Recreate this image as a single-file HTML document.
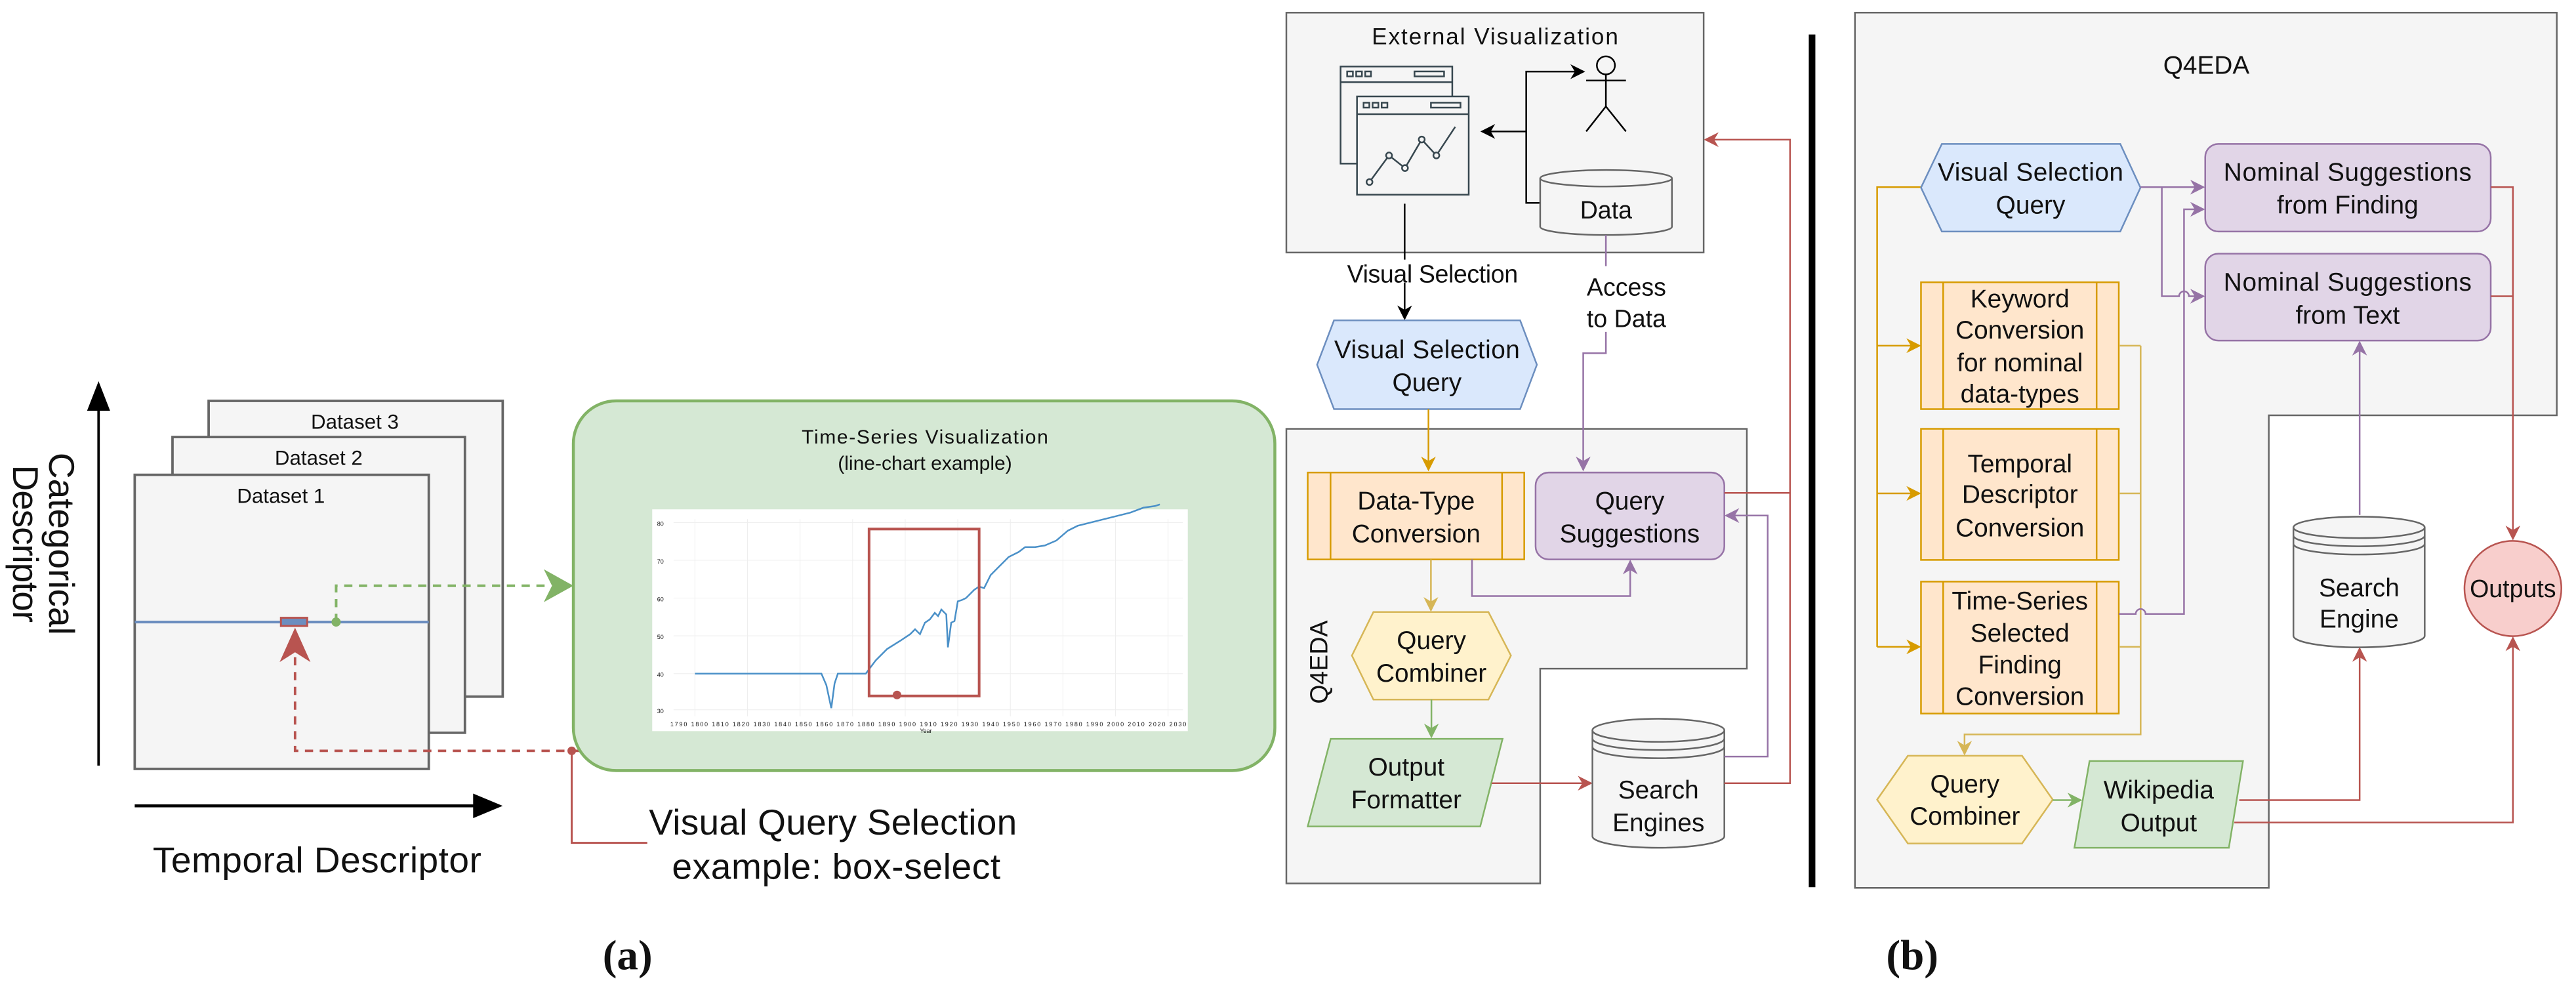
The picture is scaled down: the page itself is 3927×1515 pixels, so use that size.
<!DOCTYPE html>
<html><head><meta charset="utf-8"><style>
html,body{margin:0;padding:0;background:#fff;}
svg{display:block;}
text{font-family:"Liberation Sans",Arial,sans-serif;fill:#111;}
</style></head><body>
<svg width="3927" height="1515" viewBox="0 0 1568 605" preserveAspectRatio="none" xmlns="http://www.w3.org/2000/svg">
<defs>
<marker id="ak" viewBox="0 0 10 10" refX="9" refY="5" markerWidth="9" markerHeight="9" markerUnits="userSpaceOnUse" orient="auto"><path d="M0,0 L10,5 L0,10 L3,5 z" fill="#000"/></marker>
<marker id="ap" viewBox="0 0 10 10" refX="9" refY="5" markerWidth="9" markerHeight="9" markerUnits="userSpaceOnUse" orient="auto"><path d="M0,0 L10,5 L0,10 L3,5 z" fill="#9673a6"/></marker>
<marker id="ar" viewBox="0 0 10 10" refX="9" refY="5" markerWidth="9" markerHeight="9" markerUnits="userSpaceOnUse" orient="auto"><path d="M0,0 L10,5 L0,10 L3,5 z" fill="#b85450"/></marker>
<marker id="ao" viewBox="0 0 10 10" refX="9" refY="5" markerWidth="9" markerHeight="9" markerUnits="userSpaceOnUse" orient="auto"><path d="M0,0 L10,5 L0,10 L3,5 z" fill="#d79b00"/></marker>
<marker id="ay" viewBox="0 0 10 10" refX="9" refY="5" markerWidth="9" markerHeight="9" markerUnits="userSpaceOnUse" orient="auto"><path d="M0,0 L10,5 L0,10 L3,5 z" fill="#d6b656"/></marker>
<marker id="ag" viewBox="0 0 10 10" refX="9" refY="5" markerWidth="9" markerHeight="9" markerUnits="userSpaceOnUse" orient="auto"><path d="M0,0 L10,5 L0,10 L3,5 z" fill="#82b366"/></marker>
</defs>

<!-- ============ PANEL (a) ============ -->
<line x1="60" y1="466" x2="60" y2="250" stroke="#000" stroke-width="1.5"/>
<path d="M53,250 L60,232 L67,250 z" fill="#000"/>
<text transform="translate(30,331) rotate(90)" font-size="22" text-anchor="middle" textLength="111">Categorical</text>
<text transform="translate(8,331) rotate(90)" font-size="22" text-anchor="middle" textLength="96">Descriptor</text>

<rect x="127" y="244" width="179" height="180" fill="#f5f5f5" stroke="#666" stroke-width="1.5"/>
<text x="216" y="261" font-size="12.5" text-anchor="middle" fill="#333">Dataset 3</text>
<rect x="105" y="266" width="178" height="180" fill="#f5f5f5" stroke="#666" stroke-width="1.5"/>
<text x="194" y="283" font-size="12.5" text-anchor="middle" fill="#333">Dataset 2</text>
<rect x="82" y="289" width="179" height="179" fill="#f5f5f5" stroke="#666" stroke-width="1.5"/>
<text x="171" y="306" font-size="12.5" text-anchor="middle" fill="#333">Dataset 1</text>
<line x1="82" y1="378.6" x2="261" y2="378.6" stroke="#6c8ebf" stroke-width="1.6"/>
<rect x="171" y="376" width="16" height="5" fill="#6c8ebf" stroke="#b85450" stroke-width="1.2"/>

<polyline points="204.6,378.6 204.6,356.5 332,356.5" fill="none" stroke="#82b366" stroke-width="1.6" stroke-dasharray="5,4"/>
<circle cx="204.6" cy="378.6" r="2.8" fill="#82b366"/>
<path d="M331,346.5 L349,356.5 L331,366.5 L336,356.5 z" fill="#82b366"/>

<path d="M179.6,382 L189,403 L179.6,397 L170.2,403 z" fill="#b85450"/>
<polyline points="179.6,400 179.6,457 546,457 546,423" fill="none" stroke="#b85450" stroke-width="1.5" stroke-dasharray="5,4"/>
<circle cx="348" cy="457" r="2.6" fill="#b85450"/>
<polyline points="348,457 348,513 394,513" fill="none" stroke="#b85450" stroke-width="1.2"/>
<text x="395" y="508" font-size="22" textLength="224">Visual Query Selection</text>
<text x="409" y="535" font-size="22" textLength="200">example: box-select</text>

<line x1="82" y1="490.5" x2="290" y2="490.5" stroke="#000" stroke-width="1.8"/>
<path d="M288,483 L306,490.5 L288,498 z" fill="#000"/>
<text x="93" y="531" font-size="22" textLength="200">Temporal Descriptor</text>

<rect x="349" y="244" width="427" height="225" rx="26" fill="#d5e8d4" stroke="#82b366" stroke-width="1.8"/>
<text x="563" y="270" font-size="12" text-anchor="middle" textLength="150">Time-Series Visualization</text>
<text x="563" y="286" font-size="12" text-anchor="middle">(line-chart example)</text>
<rect x="397" y="310" width="326" height="135" fill="#fff"/>
<g stroke="#eee" stroke-width="0.4">
<line x1="410" y1="318" x2="720" y2="318"/><line x1="410" y1="341" x2="720" y2="341"/><line x1="410" y1="364" x2="720" y2="364"/><line x1="410" y1="387" x2="720" y2="387"/><line x1="410" y1="410" x2="720" y2="410"/><line x1="410" y1="432" x2="720" y2="432"/>
<line x1="423" y1="316" x2="423" y2="436"/><line x1="455" y1="316" x2="455" y2="436"/><line x1="487" y1="316" x2="487" y2="436"/><line x1="519" y1="316" x2="519" y2="436"/><line x1="551" y1="316" x2="551" y2="436"/><line x1="583" y1="316" x2="583" y2="436"/><line x1="615" y1="316" x2="615" y2="436"/><line x1="647" y1="316" x2="647" y2="436"/><line x1="679" y1="316" x2="679" y2="436"/><line x1="711" y1="316" x2="711" y2="436"/>
</g>
<g font-size="3.6" fill="#777">
<text x="400" y="320">80</text><text x="400" y="343">70</text><text x="400" y="366">60</text><text x="400" y="389">50</text><text x="400" y="412">40</text><text x="400" y="434">30</text>
<text x="408" y="442" textLength="314">1790 1800 1810 1820 1830 1840 1850 1860 1870 1880 1890 1900 1910 1920 1930 1940 1950 1960 1970 1980 1990 2000 2010 2020 2030</text>
<text x="560" y="446">Year</text>
</g>
<polyline points="423,410 500,410 503,417 506,431 508,416 510,410 527,410 533,402 540,395 548,390 554,386 557,383 560,386 563,379 566,377 569,373 571,375 573,371 576,374 577,394 579,379 581,378 583,366 586,365 588,364 590,362 593,359 596,357 599,358 603,350 608,345 614,339 620,336 624,333 630,333 636,332 643,329 650,323 656,320 664,318 672,316 680,314 688,312 696,309 703,308 706,307" fill="none" stroke="#4a90c8" stroke-width="1"/>
<rect x="529" y="322" width="67" height="101.6" fill="none" stroke="#b85450" stroke-width="1.6"/>
<circle cx="546" cy="423" r="2.6" fill="#b85450"/>

<text x="382" y="590" font-size="26" font-weight="bold" text-anchor="middle" style="font-family:'Liberation Serif',serif">(a)</text>

<!-- ============ MIDDLE ============ -->
<rect x="783" y="7.7" width="254" height="146" fill="#f5f5f5" stroke="#666" stroke-width="1"/>
<text x="910" y="27" font-size="14" text-anchor="middle" fill="#333" textLength="150">External Visualization</text>
<g fill="none" stroke="#37474f" stroke-width="1">
<path d="M826,99.6 L816,99.6 L816,40.5 L884,40.5 L884,58.7"/>
<line x1="816" y1="50" x2="884" y2="50"/>
<rect x="820" y="43.5" width="3.5" height="3"/><rect x="825.5" y="43.5" width="3.5" height="3"/><rect x="831" y="43.5" width="3.5" height="3"/><rect x="861" y="43.5" width="18" height="3"/>
<rect x="826" y="58.7" width="68" height="59.8" fill="#f5f5f5"/>
<line x1="826" y1="69.5" x2="894" y2="69.5"/>
<rect x="830" y="62.5" width="3.5" height="3"/><rect x="835.5" y="62.5" width="3.5" height="3"/><rect x="841" y="62.5" width="3.5" height="3"/><rect x="871" y="62.5" width="18" height="3"/>
<polyline points="833.6,110.8 845.5,94.6 855.2,102.3 865.4,84.9 874.3,94.6 885.8,77.2"/>
<circle cx="833.6" cy="110.8" r="1.8" fill="#f5f5f5"/><circle cx="845.5" cy="94.6" r="1.8" fill="#f5f5f5"/><circle cx="855.2" cy="102.3" r="1.8" fill="#f5f5f5"/><circle cx="865.4" cy="84.9" r="1.8" fill="#f5f5f5"/><circle cx="874.3" cy="94.6" r="1.8" fill="#f5f5f5"/>
</g>
<polyline points="938,123.5 929,123.5 929,43.6 964,43.6" fill="none" stroke="#000" stroke-width="1" marker-end="url(#ak)"/>
<line x1="929" y1="80" x2="902" y2="80" stroke="#000" stroke-width="1" marker-end="url(#ak)"/>
<g fill="none" stroke="#000" stroke-width="1">
<circle cx="977.5" cy="39.8" r="5.5"/>
<line x1="965.5" y1="49" x2="989.7" y2="49"/>
<line x1="977.5" y1="45.3" x2="977.5" y2="64.8"/>
<polyline points="965.5,80 977.5,64.8 989.7,80"/>
</g>
<path d="M937.5,108.5 L937.5,138 A40,5 0 0 0 1017.7,138 L1017.7,108.5" fill="#f5f5f5" stroke="#666" stroke-width="1"/>
<ellipse cx="977.6" cy="108.5" rx="40.1" ry="5" fill="#f5f5f5" stroke="#666" stroke-width="1"/>
<text x="977.6" y="133" font-size="15" text-anchor="middle" fill="#333">Data</text>

<line x1="855" y1="124" x2="855" y2="194" stroke="#000" stroke-width="1" marker-end="url(#ak)"/>
<rect x="818" y="158" width="108" height="14" fill="#fff"/>
<text x="872" y="172" font-size="15" text-anchor="middle" textLength="104">Visual Selection</text>

<polygon points="801.7,222 812,195 925.3,195 935.5,222 925.3,249 812,249" fill="#dae8fc" stroke="#6c8ebf" stroke-width="1"/>
<text x="868.6" y="218" font-size="15.5" text-anchor="middle" textLength="113">Visual Selection</text>
<text x="868.6" y="238" font-size="15.5" text-anchor="middle">Query</text>

<path d="M783,261 L1063.3,261 L1063.3,407 L937.5,407 L937.5,537.7 L783,537.7 z" fill="#f5f5f5" stroke="#666" stroke-width="1"/>

<polyline points="977.5,143 977.5,215 963.7,215 963.7,286" fill="none" stroke="#9673a6" stroke-width="1" marker-end="url(#ap)"/>
<rect x="955" y="162" width="48" height="40" fill="#fff"/>
<text x="990" y="180" font-size="15" text-anchor="middle">Access</text>
<text x="990" y="199" font-size="15" text-anchor="middle">to Data</text>

<line x1="869.5" y1="249" x2="869.5" y2="286" stroke="#d79b00" stroke-width="1" marker-end="url(#ao)"/>
<text transform="translate(808,403) rotate(-90)" font-size="15" text-anchor="middle">Q4EDA</text>

<rect x="796" y="287.6" width="131.8" height="52.9" fill="#ffe6cc" stroke="#d79b00" stroke-width="1"/>
<line x1="809.9" y1="287.6" x2="809.9" y2="340.5" stroke="#d79b00" stroke-width="1"/>
<line x1="914.3" y1="287.6" x2="914.3" y2="340.5" stroke="#d79b00" stroke-width="1"/>
<text x="862" y="310" font-size="15.5" text-anchor="middle">Data-Type</text>
<text x="862" y="330" font-size="15.5" text-anchor="middle">Conversion</text>

<rect x="934.7" y="287.6" width="114.9" height="52.9" rx="8" fill="#e1d5e7" stroke="#9673a6" stroke-width="1"/>
<text x="992" y="310" font-size="15.5" text-anchor="middle">Query</text>
<text x="992" y="330" font-size="15.5" text-anchor="middle">Suggestions</text>

<line x1="871" y1="340.5" x2="871" y2="371.5" stroke="#d6b656" stroke-width="1" marker-end="url(#ay)"/>
<polyline points="896,340.5 896,362.8 992.3,362.8 992.3,341.5" fill="none" stroke="#9673a6" stroke-width="1" marker-end="url(#ap)"/>

<polygon points="822.9,399 836,372.5 906,372.5 919.7,399 906,425.8 836,425.8" fill="#fff2cc" stroke="#d6b656" stroke-width="1"/>
<text x="871.3" y="395" font-size="15.5" text-anchor="middle">Query</text>
<text x="871.3" y="415" font-size="15.5" text-anchor="middle">Combiner</text>

<line x1="871.3" y1="425.8" x2="871.3" y2="448.5" stroke="#82b366" stroke-width="1" marker-end="url(#ag)"/>
<polygon points="810,449.7 914.6,449.7 901,503 796,503" fill="#d5e8d4" stroke="#82b366" stroke-width="1"/>
<text x="856" y="472" font-size="15.5" text-anchor="middle">Output</text>
<text x="856" y="492" font-size="15.5" text-anchor="middle">Formatter</text>

<line x1="908" y1="476.7" x2="968.5" y2="476.7" stroke="#b85450" stroke-width="1" marker-end="url(#ar)"/>

<path d="M969.3,444.5 L969.3,509 A40.15,7 0 0 0 1049.6,509 L1049.6,444.5" fill="#f5f5f5" stroke="#666" stroke-width="1"/>
<ellipse cx="1009.45" cy="444.5" rx="40.15" ry="7" fill="#f5f5f5" stroke="#666" stroke-width="1"/>
<path d="M969.3,449.5 A40.15,7 0 0 0 1049.6,449.5 M969.3,454.5 A40.15,7 0 0 0 1049.6,454.5" fill="none" stroke="#666" stroke-width="1"/>
<text x="1009.5" y="486" font-size="15.5" text-anchor="middle" fill="#333">Search</text>
<text x="1009.5" y="506" font-size="15.5" text-anchor="middle" fill="#333">Engines</text>

<polyline points="1049.6,460.5 1076,460.5 1076,313.8 1050.6,313.8" fill="none" stroke="#9673a6" stroke-width="1" marker-end="url(#ap)"/>
<polyline points="1049.6,476.7 1089.6,476.7 1089.6,85 1038,85" fill="none" stroke="#b85450" stroke-width="1" marker-end="url(#ar)"/>
<line x1="1049.6" y1="300" x2="1089.6" y2="300" stroke="#b85450" stroke-width="1"/>

<rect x="1101" y="21" width="4" height="519" fill="#000"/>

<!-- ============ PANEL (b) ============ -->
<path d="M1129.1,7.7 L1556.3,7.7 L1556.3,252.8 L1381,252.8 L1381,540.4 L1129.1,540.4 z" fill="#f5f5f5" stroke="#666" stroke-width="1"/>
<text x="1343" y="45" font-size="15.5" text-anchor="middle">Q4EDA</text>

<polyline points="1169.3,113.9 1142.6,113.9 1142.6,393.7" fill="none" stroke="#d79b00" stroke-width="1"/>
<line x1="1142.6" y1="210.4" x2="1168.5" y2="210.4" stroke="#d79b00" stroke-width="1" marker-end="url(#ao)"/>
<line x1="1142.6" y1="300.3" x2="1168.5" y2="300.3" stroke="#d79b00" stroke-width="1" marker-end="url(#ao)"/>
<line x1="1142.6" y1="393.7" x2="1168.5" y2="393.7" stroke="#d79b00" stroke-width="1" marker-end="url(#ao)"/>

<polygon points="1169.3,114.2 1182,87.6 1290.6,87.6 1302.9,114.2 1290.6,140.9 1182,140.9" fill="#dae8fc" stroke="#6c8ebf" stroke-width="1"/>
<text x="1236" y="110" font-size="15.5" text-anchor="middle" textLength="113">Visual Selection</text>
<text x="1236" y="130" font-size="15.5" text-anchor="middle">Query</text>

<rect x="1342.3" y="87.6" width="173.8" height="53.3" rx="8" fill="#e1d5e7" stroke="#9673a6" stroke-width="1"/>
<text x="1429" y="110" font-size="15.5" text-anchor="middle" textLength="151">Nominal Suggestions</text>
<text x="1429" y="130" font-size="15.5" text-anchor="middle">from Finding</text>
<rect x="1342.3" y="154.4" width="173.8" height="52.9" rx="8" fill="#e1d5e7" stroke="#9673a6" stroke-width="1"/>
<text x="1429" y="177" font-size="15.5" text-anchor="middle" textLength="151">Nominal Suggestions</text>
<text x="1429" y="197" font-size="15.5" text-anchor="middle">from Text</text>

<g fill="#ffe6cc" stroke="#d79b00" stroke-width="1">
<rect x="1169.3" y="171.8" width="120.4" height="77.2"/>
<line x1="1182.8" y1="171.8" x2="1182.8" y2="249"/><line x1="1276.2" y1="171.8" x2="1276.2" y2="249"/>
<rect x="1169.3" y="261" width="120.4" height="79.8"/>
<line x1="1182.8" y1="261" x2="1182.8" y2="340.8"/><line x1="1276.2" y1="261" x2="1276.2" y2="340.8"/>
<rect x="1169.3" y="354" width="120.4" height="80.3"/>
<line x1="1182.8" y1="354" x2="1182.8" y2="434.3"/><line x1="1276.2" y1="354" x2="1276.2" y2="434.3"/>
</g>
<g font-size="15.5" text-anchor="middle">
<text x="1229.5" y="187">Keyword</text><text x="1229.5" y="206">Conversion</text><text x="1229.5" y="226">for nominal</text><text x="1229.5" y="245">data-types</text>
<text x="1229.5" y="287.5">Temporal</text><text x="1229.5" y="306">Descriptor</text><text x="1229.5" y="326.5">Conversion</text>
<text x="1229.5" y="371">Time-Series</text><text x="1229.5" y="390.5">Selected</text><text x="1229.5" y="410">Finding</text><text x="1229.5" y="429">Conversion</text>
</g>

<g fill="none" stroke="#d6b656" stroke-width="1">
<line x1="1289.7" y1="210.4" x2="1303" y2="210.4"/>
<line x1="1289.7" y1="300.3" x2="1303" y2="300.3"/>
<line x1="1289.7" y1="393.7" x2="1303" y2="393.7"/>
<polyline points="1303,210.4 1303,447 1195.8,447 1195.8,459" marker-end="url(#ay)"/>
</g>

<g fill="none" stroke="#9673a6" stroke-width="1">
<line x1="1302.9" y1="113.9" x2="1341.3" y2="113.9" marker-end="url(#ap)"/>
<path d="M1315.9,113.9 L1315.9,180.3 L1326.4,180.3 A3,3 0 0 1 1332.4,180.3 L1341.3,180.3" marker-end="url(#ap)"/>
<path d="M1289.7,373.7 L1300,373.7 A3,3 0 0 1 1306,373.7 L1329.4,373.7 L1329.4,127.4 L1341.3,127.4" marker-end="url(#ap)"/>
<line x1="1436.3" y1="313.4" x2="1436.3" y2="208.3" marker-end="url(#ap)"/>
</g>

<polygon points="1142.6,486.7 1161.3,460 1230.8,460 1249.5,486.7 1230.8,513.4 1161.3,513.4" fill="#fff2cc" stroke="#d6b656" stroke-width="1"/>
<text x="1196" y="482.5" font-size="15.5" text-anchor="middle">Query</text>
<text x="1196" y="502" font-size="15.5" text-anchor="middle">Combiner</text>
<line x1="1249.5" y1="487" x2="1266.6" y2="487" stroke="#82b366" stroke-width="1" marker-end="url(#ag)"/>
<polygon points="1271.9,463.2 1365.3,463.2 1356.7,516 1262.7,516" fill="#d5e8d4" stroke="#82b366" stroke-width="1"/>
<text x="1314" y="486" font-size="15.5" text-anchor="middle">Wikipedia</text>
<text x="1314" y="506" font-size="15.5" text-anchor="middle">Output</text>

<path d="M1396,321 L1396,387 A39.95,7 0 0 0 1475.9,387 L1475.9,321" fill="#f5f5f5" stroke="#666" stroke-width="1"/>
<ellipse cx="1435.95" cy="321" rx="39.95" ry="6.5" fill="#f5f5f5" stroke="#666" stroke-width="1"/>
<path d="M1396,326 A39.95,6.5 0 0 0 1475.9,326 M1396,331 A39.95,6.5 0 0 0 1475.9,331" fill="none" stroke="#666" stroke-width="1"/>
<text x="1436" y="363" font-size="15.5" text-anchor="middle" fill="#333">Search</text>
<text x="1436" y="382" font-size="15.5" text-anchor="middle" fill="#333">Engine</text>

<ellipse cx="1529.6" cy="358.2" rx="29.5" ry="29" fill="#f8cecc" stroke="#b85450" stroke-width="1"/>
<text x="1529.6" y="363.5" font-size="15" text-anchor="middle">Outputs</text>

<g fill="none" stroke="#b85450" stroke-width="1">
<polyline points="1516.1,113.9 1529.6,113.9 1529.6,328" marker-end="url(#ar)"/>
<line x1="1516.1" y1="180.3" x2="1529.6" y2="180.3"/>
<polyline points="1363,487 1436.3,487 1436.3,394.7" marker-end="url(#ar)"/>
<polyline points="1360,500.6 1529.6,500.6 1529.6,388.2" marker-end="url(#ar)"/>
</g>

<text x="1164" y="590" font-size="26" font-weight="bold" text-anchor="middle" style="font-family:'Liberation Serif',serif">(b)</text>
</svg>
</body></html>
